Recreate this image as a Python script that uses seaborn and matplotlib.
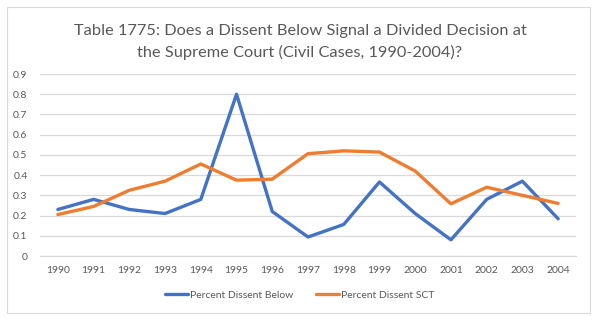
import matplotlib
matplotlib.use("Agg")
import matplotlib.pyplot as plt
import seaborn as sns
import pandas as pd
from matplotlib.patches import Rectangle
from matplotlib.lines import Line2D

years = ["1990", "1991", "1992", "1993", "1994", "1995", "1996", "1997",
         "1998", "1999", "2000", "2001", "2002", "2003", "2004"]
dissent_below = [0.23, 0.28, 0.23, 0.21, 0.28, 0.80, 0.22, 0.094,
                 0.156, 0.366, 0.21, 0.08, 0.28, 0.37, 0.184]
dissent_sct = [0.205, 0.245, 0.325, 0.37, 0.455, 0.375, 0.38, 0.506,
               0.52, 0.514, 0.42, 0.258, 0.34, 0.30, 0.26]
series_names = ["Percent Dissent Below", "Percent Dissent SCT"]
title = "Table 1775: Does a Dissent Below Signal a Divided Decision at\nthe Supreme Court (Civil Cases, 1990-2004)?"
yticks = [0, 0.1, 0.2, 0.3, 0.4, 0.5, 0.6, 0.7, 0.8, 0.9]

df = pd.DataFrame({
    "pos": list(range(len(years))) * 2,
    "value": dissent_below + dissent_sct,
    "series": [series_names[0]] * len(years) + [series_names[1]] * len(years),
})

sns.set_theme(style="white")
plt.rcParams["font.family"] = ["Lato", "DejaVu Sans"]

fig = plt.figure(figsize=(6.0, 3.21), dpi=100)
ax = fig.add_axes([40 / 600, 1 - 256 / 321, (576 - 40) / 600, (256 - 74) / 321])

palette = {series_names[0]: "#4472C4", series_names[1]: "#ED7D31"}
sns.lineplot(data=df, x="pos", y="value", hue="series", palette=palette,
             linewidth=2.4, ax=ax, legend=False)

ax.set_xlim(-0.5, len(years) - 0.5)
ax.set_ylim(0, 0.9)
ax.set_yticks(yticks)
ax.set_yticklabels(["0"] + [f"{v:.1f}" for v in yticks[1:]])
ax.set_xticks(range(len(years)))
ax.set_xticklabels(years)
ax.yaxis.grid(True, color="#D9D9D9", linewidth=0.9)
ax.set_axisbelow(True)
for s in ["top", "right", "left"]:
    ax.spines[s].set_visible(False)
ax.spines["bottom"].set_color("#D9D9D9")
ax.spines["bottom"].set_linewidth(0.9)
ax.tick_params(axis="both", length=0, labelsize=7.5, colors="#595959")
ax.tick_params(axis="y", pad=9)
ax.tick_params(axis="x", pad=7)
ax.set_xlabel("")
ax.set_ylabel("")

fig.text(0.5, 1 - 42 / 321, title, ha="center", va="center",
         fontsize=11.8, color="#595959", linespacing=1.5)

handles = [Line2D([], [], color=palette[n], linewidth=2.4) for n in series_names]
fig.legend(handles, series_names, loc="center", bbox_to_anchor=(0.5, 1 - 295 / 321),
           ncol=2, frameon=False, fontsize=7.5, labelcolor="#595959",
           handlelength=2.2, handletextpad=0.2, columnspacing=2.2)

fig.patches.append(Rectangle((7 / 600, 1 - 313 / 321), (590 - 7) / 600, (313 - 7) / 321,
                             transform=fig.transFigure, fill=False,
                             edgecolor="#D9D9D9", linewidth=0.8))

fig.savefig("out.png", dpi=100, facecolor="white")
